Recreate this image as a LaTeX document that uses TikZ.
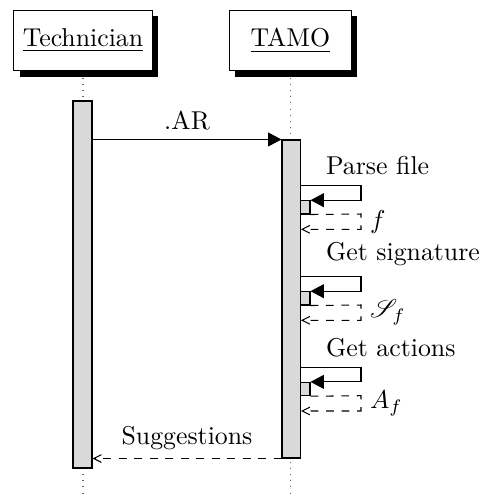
\documentclass[tikz,border=0pt]{standalone}
\usepackage{amsmath}
\usepackage{amssymb}
\usepackage{mathrsfs}
\usepackage{tikz}
\usetikzlibrary{arrows.meta}
\usetikzlibrary{positioning}
\usetikzlibrary{shadows}
\usetikzlibrary{fit}
\colorlet{BarGray}{gray!30}
\colorlet{LifeGray}{black!60}

\begin{document}
\begin{tikzpicture}[x=0.3876pt, y=-0.3876pt,
  thread/.style={draw, fill=white, inner xsep=3.5pt, minimum width=47.3pt, minimum height=23.6pt,
    drop shadow={shadow xshift=2.3pt, shadow yshift=-2.3pt, fill=black, opacity=1}},
  bar/.style={draw, fill=BarGray, inner sep=0pt},
  call/.style={-{Triangle[length=5.2pt, width=5.4pt]}},
  ret/.style={dashed, -{Straight Barb[length=3pt, width=3pt]}},
  life/.style={dotted, LifeGray}]

\useasboundingbox (0,0) rectangle (484,498);

% Threads
\node[thread] (tech) at (83,40.5) {\underline{Technician}};
\node[thread, right=29.5pt of tech] (tamo) {\underline{TAMO}};

% Life lines
\coordinate (techend) at (tech.south |- 0,498);
\coordinate (tamoend) at (tamo.south |- 0,498);
\draw[life] ([yshift=-2.4pt]tech.south) -- (techend);
\draw[life] ([yshift=-2.4pt]tamo.south) -- (tamoend);

% Activation bars
\node[bar, fit={(73,101) (92,468)}] (techbar) {};
\node[bar, fit={(282,140) (300.5,458)}] (tamobar) {};

\def \xTurn {361}

%.AR call
\draw[call] (techbar.east |- tamobar.north) -- (tamobar.north west)
node[midway, above] (arlbl) {.AR};

% Parse file
\node[bar, fit={(300.5,200.7) (310,214)}] (parseact) {};
\draw[call] (tamobar.east |- 0,185.7) -- (\xTurn,185.7) |- (parseact.north east);
\node[above right] (parselbl) at (317,184) {Parse file};
\draw[ret] (parseact.south east) -- (\xTurn,214) -- node[right] (flbl) {$f$} (\xTurn,229.3)
-- (tamobar.east |- 0,229.3);

% Get signature
\node[bar, fit={(300.5,291.7) (310,305)}] (sigact) {};
\draw[call] (tamobar.east |- 0,276.7) -- (\xTurn,276.7) |- (sigact.north east);
\node[above right] (siglbl) at (317,275) {Get signature};
\draw[ret] (sigact.south east) -- (\xTurn,305) -- node[right] (sflbl) {$\mathscr{S}_f$} (\xTurn,320.3)
-- (tamobar.east |- 0,320.3);

% Get actions
\node[bar, fit={(300.5,382.4) (310,395.7)}] (actact) {};
\draw[call] (tamobar.east |- 0,367.4) -- (\xTurn,367.4) |- (actact.north east);
\node[above right] (actlbl) at (317,365.7) {Get actions};
\draw[ret] (actact.south east) -- (\xTurn,395.7) -- node[right] (aflbl) {$A_f$} (\xTurn,411)
-- (tamobar.east |- 0,411);

% Suggestions return
\draw[ret] (tamobar.south west) -- (techbar.east |- tamobar.south)
node[midway, above] (suglbl) {Suggestions};

\end{tikzpicture}
\end{document}
